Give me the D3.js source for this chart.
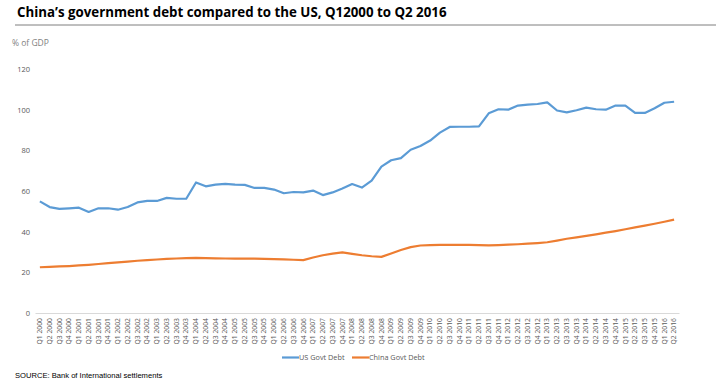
<!DOCTYPE html>
<html>
<head>
<meta charset="utf-8">
<script src="https://cdn.jsdelivr.net/npm/d3@7"></script>
<style>
  body { margin: 0; background: #fff; }
  text { font-family: "Open Sans", "Liberation Sans", sans-serif; }
</style>
</head>
<body>
<div id="chart"></div>
<script>
// quarters Q1 2000 .. Q2 2016
var quarters = [];
for (var yr = 2000; yr <= 2016; yr++) {
  for (var q = 1; q <= 4; q++) {
    if (yr == 2016 && q > 2) break;
    quarters.push("Q" + q + " " + yr);
  }
}

var usDebt = [54.9, 52.1, 51.2, 51.5, 51.8, 49.7, 51.5, 51.5, 50.8, 52.1,
              54.4, 55.1, 55.1, 56.6, 56.2, 56.2, 64.2, 62.3, 63.1, 63.5,
              63.1, 63.0, 61.5, 61.5, 60.7, 58.9, 59.5, 59.3, 60.2, 58.0,
              59.3, 61.2, 63.4, 61.7, 65.1, 72.0, 75.1, 76.2, 80.3, 82.1,
              84.8, 88.7, 91.5, 91.6, 91.6, 91.8, 98.2, 100.2, 100.0, 102.0,
              102.5, 102.8, 103.6, 99.6, 98.7, 99.7, 101.0, 100.2, 100.0, 102.0,
              102.0, 98.4, 98.4, 100.7, 103.4, 103.9];

var chinaDebt = [22.5, 22.7, 22.9, 23.1, 23.4, 23.7, 24.1, 24.5, 24.9, 25.3,
                 25.7, 26.0, 26.3, 26.6, 26.8, 27.0, 27.1, 27.0, 26.9, 26.8,
                 26.7, 26.7, 26.7, 26.6, 26.5, 26.4, 26.2, 26.0, 27.3, 28.4,
                 29.2, 29.8, 29.1, 28.4, 27.9, 27.6, 29.3, 31.0, 32.4, 33.2,
                 33.4, 33.5, 33.5, 33.5, 33.5, 33.4, 33.3, 33.4, 33.6, 33.8,
                 34.1, 34.4, 34.8, 35.6, 36.5, 37.2, 37.9, 38.7, 39.5, 40.3,
                 41.2, 42.1, 43.0, 43.9, 44.9, 45.9];

var yTicks = [0, 20, 40, 60, 80, 100, 120];

var series = [
  {name: "US Govt Debt", values: usDebt, color: "#5B9BD5"},
  {name: "China Govt Debt", values: chinaDebt, color: "#ED7D31"}
];

var width = 720, height = 385;

var svg = d3.select("#chart").append("svg")
    .attr("width", width)
    .attr("height", height);

// title
svg.append("text")
    .attr("x", 17)
    .attr("y", 17)
    .style("font-size", "13.3px")
    .style("font-weight", "bold")
    .style("fill", "#000")
    .text("China\u2019s government debt compared to the US, Q12000 to Q2 2016");

svg.append("line")
    .attr("x1", 15).attr("x2", 716)
    .attr("y1", 25).attr("y2", 25)
    .style("stroke", "#7f7f7f")
    .style("stroke-width", 1);

svg.append("text")
    .attr("x", 12)
    .attr("y", 46)
    .style("font-size", "8.5px")
    .style("fill", "#7f7f7f")
    .text("% of GDP");

var x = d3.scaleBand()
    .domain(quarters)
    .range([35, 679]);

var y = d3.scaleLinear()
    .domain([0, 120])
    .range([313, 69]);

// y axis (labels only)
var y_axis = d3.axisLeft(y).tickValues(yTicks).tickSize(0).tickPadding(0);
var gy = svg.append("g")
    .attr("transform", "translate(30,0)")
    .call(y_axis);
gy.select(".domain").remove();
gy.selectAll("text")
    .style("font-size", "7.5px")
    .style("fill", "#595959")
    .style("font-family", "'Open Sans', sans-serif");

// x axis
var x_axis = d3.axisBottom(x).tickSize(0).tickPadding(0);
var gx = svg.append("g")
    .attr("transform", "translate(0," + y(0) + ")")
    .call(x_axis);
gx.select(".domain")
    .style("stroke", "#d9d9d9")
    .style("stroke-width", 1);
gx.selectAll("text")
    .attr("transform", "rotate(-90)")
    .attr("text-anchor", "end")
    .attr("x", -5)
    .attr("y", 0)
    .attr("dy", "0.32em")
    .style("font-size", "6.8px")
    .style("fill", "#595959")
    .style("font-family", "'Open Sans', sans-serif");

var line = d3.line()
    .x(function(d, i){ return x(quarters[i]) + x.bandwidth() / 2; })
    .y(function(d){ return y(d); });

svg.selectAll(".series")
    .data(series)
  .enter().append("path")
    .attr("class", "series")
    .attr("d", function(d){ return line(d.values); })
    .style("fill", "none")
    .style("stroke", function(d){ return d.color; })
    .style("stroke-width", 2.2)
    .style("stroke-linejoin", "round");

// legend
var legend = svg.selectAll(".legend")
    .data(series)
  .enter().append("g")
    .attr("class", "legend")
    .attr("transform", function(d, i){ return "translate(" + (282 + i * 70) + ",357.5)"; });

legend.append("line")
    .attr("x1", 0).attr("x2", 17)
    .style("stroke", function(d){ return d.color; })
    .style("stroke-width", 2.2);

legend.append("text")
    .attr("x", 17)
    .attr("dy", "0.35em")
    .style("font-size", "7.3px")
    .style("fill", "#595959")
    .text(function(d){ return d.name; });

svg.append("text")
    .attr("x", 15)
    .attr("y", 378)
    .style("font-size", "7.6px")
    .style("font-family", "'Liberation Sans', Arial, sans-serif")
    .style("fill", "#000")
    .text("SOURCE: Bank of International settlements");
</script>
</body>
</html>
